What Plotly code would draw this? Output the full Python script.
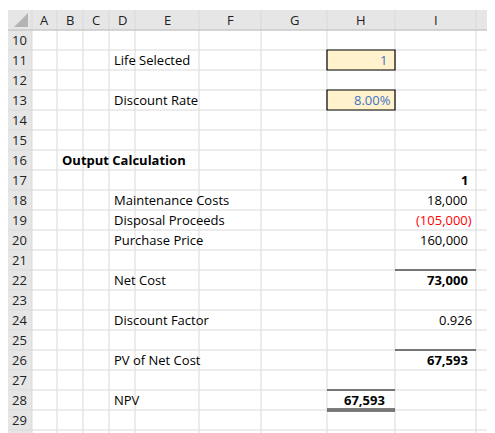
import plotly.graph_objects as go

col_names = ["A", "B", "C", "D", "E", "F", "G", "H", "I", ""]
col_edges = [32, 57, 83, 109, 135, 199, 261, 327, 395, 476, 560]
row_numbers = list(range(10, 30))

labels = {11: "Life Selected", 13: "Discount Rate", 18: "Maintenance Costs",
          19: "Disposal Proceeds", 20: "Purchase Price", 22: "Net Cost",
          24: "Discount Factor", 26: "PV of Net Cost", 28: "NPV"}
life_selected = 1
discount_rate = 8.00
year_header = 1
maintenance = 18000
disposal = -105000
purchase = 160000
net_cost = 73000
discount_factor = 0.926
pv_net_cost = 67593
npv = 67593

HEAD_TOP, HEAD_BOT, RH = 10, 30, 20
def rtop(r): return HEAD_BOT + (r - 10) * RH
def rmid(r): return rtop(r) + RH / 2

fig = go.Figure()
shapes, ann = [], []
FONT = "Open Sans"
FS = 13
grid = "#d9d9d9"

shapes.append(dict(type="rect", x0=0, x1=520, y0=HEAD_TOP, y1=HEAD_BOT, fillcolor="#e6e6e6", line_width=0, layer="below"))
shapes.append(dict(type="rect", x0=0, x1=col_edges[0], y0=HEAD_TOP, y1=460, fillcolor="#e6e6e6", line_width=0, layer="below"))
shapes.append(dict(type="path", path="M 28 13 L 28 27 L 14 27 Z", fillcolor="#b4b4b4", line_width=0))
for x in col_edges:
    shapes.append(dict(type="line", x0=x, x1=x, y0=HEAD_TOP, y1=460, line=dict(color=grid, width=1)))
for r in row_numbers + [30, 31]:
    shapes.append(dict(type="line", x0=0, x1=520, y0=rtop(r), y1=rtop(r), line=dict(color=grid, width=1)))
shapes.append(dict(type="line", x0=0, x1=520, y0=HEAD_BOT, y1=HEAD_BOT, line=dict(color="#c0c0c0", width=1)))

for i, n in enumerate(col_names):
    if n:
        ann.append(dict(x=(col_edges[i] + col_edges[i + 1]) / 2, y=20, text=n, showarrow=False,
                        font=dict(family=FONT, size=FS, color="#222")))
for r in row_numbers:
    ann.append(dict(x=10, y=rmid(r), text=str(r), xanchor="left", showarrow=False,
                    font=dict(family=FONT, size=FS, color="#222")))

for r, t in labels.items():
    ann.append(dict(x=112, y=rmid(r), text=t, xanchor="left", showarrow=False,
                    font=dict(family=FONT, size=FS, color="black")))
ann.append(dict(x=60, y=rmid(16), text="<b>Output Calculation</b>", xanchor="left", showarrow=False,
                font=dict(family=FONT, size=FS, color="black")))

H0, H1, I0, I1 = col_edges[7], col_edges[8], col_edges[8], col_edges[9]
for r in (11, 13):
    shapes.append(dict(type="rect", x0=H0, x1=H1, y0=rtop(r), y1=rtop(r) + RH, fillcolor="#fff2cc",
                       line=dict(color="black", width=1.2)))
def val(x, r, t, color="black", bold=False):
    ann.append(dict(x=x, y=rmid(r), text=f"<b>{t}</b>" if bold else t, xanchor="right", showarrow=False,
                    font=dict(family=FONT, size=FS, color=color)))
val(H1 - 6, 11, str(life_selected), "#4472c4")
val(H1 - 2, 13, f"{discount_rate:.2f}%", "#4472c4")
val(I1 - 6, 17, str(year_header), bold=True)
val(I1 - 6, 18, f"{maintenance:,}")
val(I1 - 2, 19, f"({-disposal:,})", "red")
val(I1 - 6, 20, f"{purchase:,}")
val(I1 - 6, 22, f"{net_cost:,}", bold=True)
val(I1 - 2, 24, f"{discount_factor:.3f}")
val(I1 - 6, 26, f"{pv_net_cost:,}", bold=True)
val(H1 - 8, 28, f"{npv:,}", bold=True)

for r in (22, 26):
    shapes.append(dict(type="line", x0=I0, x1=I1, y0=rtop(r), y1=rtop(r), line=dict(color="black", width=1.2)))
shapes.append(dict(type="line", x0=H0, x1=H1, y0=rtop(28), y1=rtop(28), line=dict(color="black", width=1.2)))
shapes.append(dict(type="line", x0=H0, x1=H1, y0=rtop(29) - 1, y1=rtop(29) - 1, line=dict(color="black", width=1)))
shapes.append(dict(type="line", x0=H0, x1=H1, y0=rtop(29) + 1, y1=rtop(29) + 1, line=dict(color="black", width=1)))

# page has an 8px body margin: shift the visible window so marks land on reference pixels
OFF = 8
fig.update_layout(width=495, height=433, margin=dict(l=0, r=0, t=0, b=0),
                  plot_bgcolor="white", paper_bgcolor="white", shapes=shapes, annotations=ann,
                  xaxis=dict(range=[OFF, 495 + OFF], visible=False, fixedrange=True),
                  yaxis=dict(range=[433 + OFF, OFF], visible=False, fixedrange=True), showlegend=False)
fig.write_html("out.html", config={"displayModeBar": False})
